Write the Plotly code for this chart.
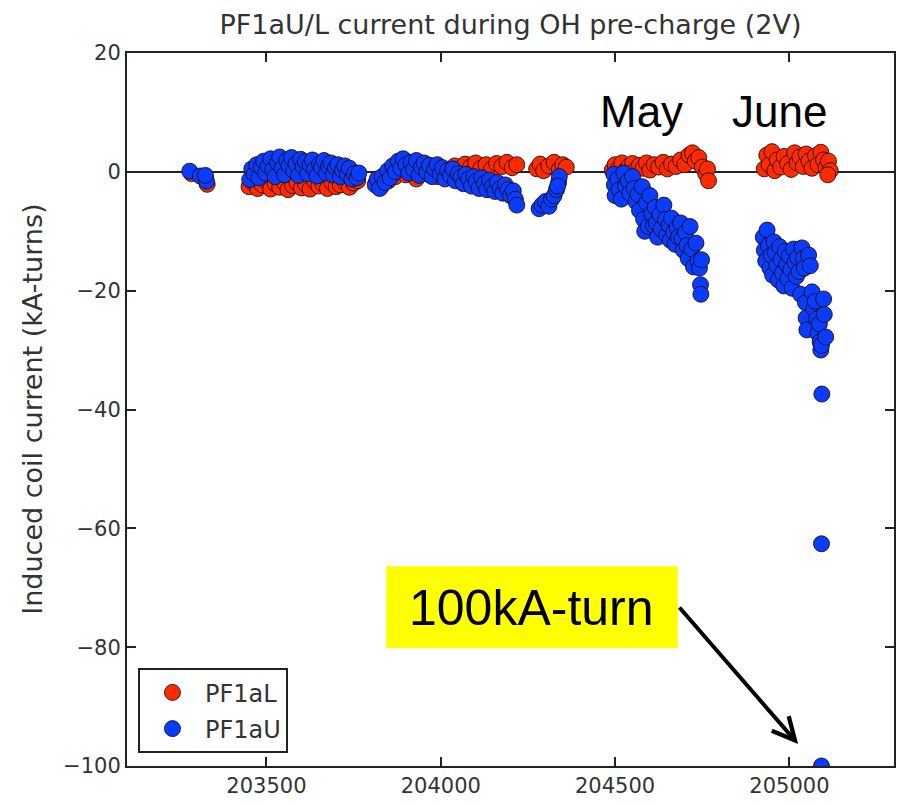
import plotly.graph_objects as go

# ---------------- data ----------------
pf1al_x = [203285, 203330, 203325,
           203450, 203462, 203475, 203488, 203500, 203512, 203525, 203538, 203550, 203562, 203575, 203588,
           203600, 203612, 203625, 203638, 203650, 203662, 203675, 203688, 203700, 203712, 203725, 203738,
           203750, 203762,
           203815, 203830, 203850, 203870, 203900, 203930, 203960, 203990, 204020, 204040, 204055, 204070,
           204085, 204100, 204115, 204130, 204145, 204160, 204175, 204190, 204205, 204218,
           204275, 204285, 204295, 204310, 204325, 204340, 204350, 204360,
           204492, 204500, 204510, 204520, 204530, 204540, 204550, 204560, 204570, 204580, 204590, 204600,
           204612, 204625, 204638, 204650, 204662, 204675, 204688, 204700, 204712, 204722, 204730, 204740,
           204750, 204760, 204765, 204768,
           204928, 204935, 204942, 204950, 204958, 204965, 204975, 204985, 204995, 205005, 205015, 205022,
           205030, 205040, 205048, 205056, 205065, 205075, 205082, 205090, 205098, 205105, 205112, 205117,
           205110]
pf1al_y = [-0.3, -2.1, -1.0,
           -2.5, -1.8, -2.8, -2.2, -1.5, -2.9, -2.0, -2.6, -1.7, -3.0, -2.3, -1.9,
           -2.7, -2.1, -2.9, -1.6, -2.4, -2.0, -2.8, -1.8, -2.5, -2.2, -1.7, -2.6,
           -1.9, -1.5,
           -1.8, -2.4, -1.5, -0.8, -0.5, -1.2, -0.3, -0.8, 0.2, 1.0, 0.5, 1.3,
           0.8, 1.5, 0.6, 1.2, 0.4, 1.4, 0.9, 1.6, 0.7, 1.2,
           0.5, 1.3, 0.2, 1.0, 1.6, 0.4, 1.2, 0.8,
           0.3, 1.2, 0.5, 1.5, 0.2, 1.0, 1.4, 0.4, 1.1, 0.6, 1.5, 0.3,
           1.2, 0.8, 1.6, 0.5, 1.3, 0.9, 2.0, 1.2, 2.8, 3.2, 1.8, 2.4,
           0.8, -0.3, 0.5, -1.5,
           0.5, 2.8, 1.2, 3.4, 0.2, 2.0, 0.8, 2.6, 1.4, 0.4, 3.2, 1.5,
           2.5, 0.9, 3.0, 1.8, 0.6, 2.7, 1.2, 3.3, 2.0, 0.7, 1.8, 0.2,
           -0.5]

pf1au_x = [203280, 203310, 203328, 203325,
           203452, 203458, 203465, 203472, 203478, 203485, 203492, 203498, 203505, 203512, 203518, 203525,
           203532, 203538, 203545, 203552, 203558, 203565, 203572, 203578, 203585, 203592, 203598, 203605,
           203612, 203618, 203625, 203632, 203638, 203645, 203652, 203658, 203665, 203672, 203678, 203685,
           203692, 203698, 203705, 203712, 203718, 203725, 203732, 203738, 203745, 203752, 203760, 203765,
           203812, 203818, 203825, 203832, 203840, 203848, 203855, 203862, 203870, 203878, 203885, 203892,
           203900, 203908, 203915, 203922, 203930, 203938, 203945, 203952, 203960, 203968, 203975, 203982,
           203990, 203998, 204005, 204012, 204020, 204028, 204035, 204042, 204050, 204058, 204065, 204072,
           204080, 204088, 204095, 204102, 204110, 204118, 204125, 204132, 204140, 204148, 204155, 204162,
           204170, 204178, 204185, 204192, 204200, 204208, 204214, 204218,
           204282, 204290, 204300, 204310, 204318, 204325, 204332, 204338, 204340, 204335,
           204496, 204498, 204500, 204508, 204512, 204518, 204525, 204530, 204538, 204542, 204550, 204555,
           204560, 204566, 204570, 204578, 204582, 204585, 204590, 204595, 204600, 204605, 204610, 204615,
           204618, 204622, 204628, 204632, 204640, 204645, 204648, 204655, 204658, 204662, 204668, 204672,
           204678, 204682, 204688, 204692, 204696, 204702, 204706, 204710, 204715, 204720, 204725, 204732,
           204738, 204742, 204748, 204745, 204746,
           204925, 204928, 204932, 204936, 204940, 204944, 204948, 204952, 204956, 204960, 204964, 204968,
           204972, 204976, 204980, 204984, 204988, 204992, 204996, 205000, 205004, 205008, 205012, 205016,
           205020, 205024, 205028, 205032, 205036, 205040, 205043, 205046, 205048, 205050, 205055, 205060,
           205065, 205070, 205074, 205078, 205082, 205086, 205088, 205090, 205092, 205098, 205100, 205104,
           205093, 205092, 205092]
pf1au_y = [0.1, -0.7, -1.6, -0.6,
           -1.3, 0.5, -0.4, 1.2, -1.0, 0.8, 1.8, -0.2, 1.0, 2.2, 0.3, -0.8,
           1.5, 2.5, 0.6, -0.5, 1.9, 1.0, 2.4, 0.2, 1.4, -0.6, 2.1, 0.9,
           1.7, -0.3, 1.2, 2.0, 0.4, -0.7, 1.3, 0.8, 1.9, -0.2, 0.9, 1.5,
           -0.5, 0.7, 1.2, -0.8, 0.3, 1.0, -0.4, 0.6, -1.2, -0.3, -1.0, -0.2,
           -2.2, -1.2, -2.8, -0.8, -1.8, 0.2, -1.0, 1.0, 0.0, 1.8, 0.6, 2.2,
           1.2, -0.2, 1.6, 0.4, 1.9, -0.6, 0.8, 1.5, 0.0, 1.1, -0.8, 0.5,
           1.2, -0.4, 0.7, -1.2, 0.2, -0.6, 0.5, -1.5, -0.3, -0.9, -2.0, -0.4,
           -1.2, -2.4, -0.8, -1.6, -2.8, -1.0, -2.0, -3.0, -1.4, -2.5, -3.3, -1.8,
           -2.8, -3.6, -2.2, -3.0, -4.0, -3.2, -4.6, -5.6,
           -6.2, -5.6, -5.0, -5.8, -4.6, -4.0, -3.0, -1.8, -0.8, -2.4,
           -0.4, -2.2, -4.0, -1.2, -3.0, -4.6, -0.2, -2.4, -1.5, -3.6, -0.8, -2.8,
           -5.0, -3.8, -6.5, -2.5, -8.0, -10.0, -5.2, -9.2, -4.0, -7.0, -9.0, -6.0,
           -8.6, -11.0, -7.2, -9.6, -5.6, -8.0, -10.6, -9.0, -11.5, -7.8, -10.2, -12.2,
           -9.4, -11.0, -8.6, -11.2, -13.2, -10.2, -12.4, -14.6, -9.2, -13.0, -16.0, -12.0,
           -15.0, -16.2, -14.8, -19.0, -20.6,
           -11.0, -13.2, -15.0, -9.8, -12.4, -16.2, -14.0, -17.4, -11.8, -13.6, -15.8, -18.2,
           -12.6, -14.8, -17.0, -19.2, -13.4, -15.6, -18.0, -14.2, -16.4, -19.6, -13.0, -15.2,
           -17.6, -14.4, -16.8, -20.6, -12.8, -14.6, -16.2, -22.0, -24.6, -26.6, -14.0, -15.8,
           -20.2, -23.0, -21.8, -24.8, -27.2, -25.6, -28.6, -30.0, -29.2, -21.4, -24.0, -27.8,
           -37.4, -62.6, -100.0]

x_ticks = [203500, 204000, 204500, 205000]
y_ticks = [20, 0, -20, -40, -60, -80, -100]
x_range = [203100, 205300]
y_range = [-100, 20]

title_text = "PF1aU/L current during OH pre-charge (2V)"
y_title = "Induced coil current (kA-turns)"
series_names = ["PF1aL", "PF1aU"]
month_labels = ["May", "June"]
month_pos_x = [204576, 204971]
month_pos_y = [10.1, 10.1]
callout_text = "100kA-turn"
callout_target = (205025, -96.3)

RED = "#ff2a00"
BLUE = "#0a3cff"
EDGE = "rgba(25,10,10,0.85)"
AXC = "#222222"
FONT = "DejaVu Sans"

fig = go.Figure()
fig.add_trace(go.Scatter(x=pf1al_x, y=pf1al_y, mode="markers", name=series_names[0],
                         legendgroup="a",
                         marker=dict(color=RED, size=16, line=dict(color=EDGE, width=1))))
fig.add_trace(go.Scatter(x=pf1au_x, y=pf1au_y, mode="markers", name=series_names[1],
                         legendgroup="b",
                         marker=dict(color=BLUE, size=16, line=dict(color=EDGE, width=1))))

axis_common = dict(showgrid=False, showline=True, linecolor=AXC, linewidth=2, mirror="ticks",
                   ticks="inside", ticklen=9, tickwidth=1.5, tickcolor=AXC,
                   tickfont=dict(family=FONT, size=21, color="#333333"))

fig.update_xaxes(range=x_range, tickvals=x_ticks, ticktext=[str(v) for v in x_ticks],
                 zeroline=False, **axis_common)
fig.update_yaxes(range=y_range, tickvals=y_ticks, zeroline=True, zerolinecolor="#222222",
                 zerolinewidth=2, **axis_common)

annotations = []
annotations.append(dict(text=y_title, xref="paper", yref="paper", x=-0.1235, y=0.5,
                        textangle=-90, showarrow=False, xanchor="center", yanchor="middle",
                        font=dict(family=FONT, size=27, color="#333333")))
for lab, mx, my in zip(month_labels, month_pos_x, month_pos_y):
    annotations.append(dict(text=lab, x=mx, y=my, xref="x", yref="y", showarrow=False,
                            xanchor="center", yanchor="middle",
                            font=dict(family="Liberation Sans, Arial", size=44, color="black")))
annotations.append(dict(text=callout_text, xref="paper", yref="paper", x=0.528, y=0.222,
                        showarrow=False, xanchor="center", yanchor="middle",
                        font=dict(family="Liberation Sans, Arial", size=50, color="black")))
annotations.append(dict(text="", x=callout_target[0], y=callout_target[1], xref="x", yref="y",
                        showarrow=True, ax=-120, ay=-138, arrowhead=5, arrowsize=1.1,
                        arrowwidth=4, arrowcolor="black", standoff=0))

fig.update_layout(
    width=903, height=805,
    margin=dict(l=127, r=7, t=53, b=37),
    paper_bgcolor="white", plot_bgcolor="white",
    title=dict(text=title_text, x=0.5, xref="paper", xanchor="center", y=1 - 25 / 805,
               yanchor="middle", font=dict(family=FONT, size=27, color="#333333")),
    showlegend=True,
    legend=dict(x=0.0143, y=0.137, xanchor="left", yanchor="top", bgcolor="white",
                bordercolor=AXC, borderwidth=2, itemwidth=55, tracegroupgap=2,
                font=dict(family=FONT, size=24, color="#333333")),
    shapes=[dict(type="rect", xref="paper", yref="paper", x0=0.338, x1=0.718, y0=0.165, y1=0.280,
                 fillcolor="#ffff00", line=dict(width=0), layer="above")],
    annotations=annotations,
)

fig.write_html("out.html")
